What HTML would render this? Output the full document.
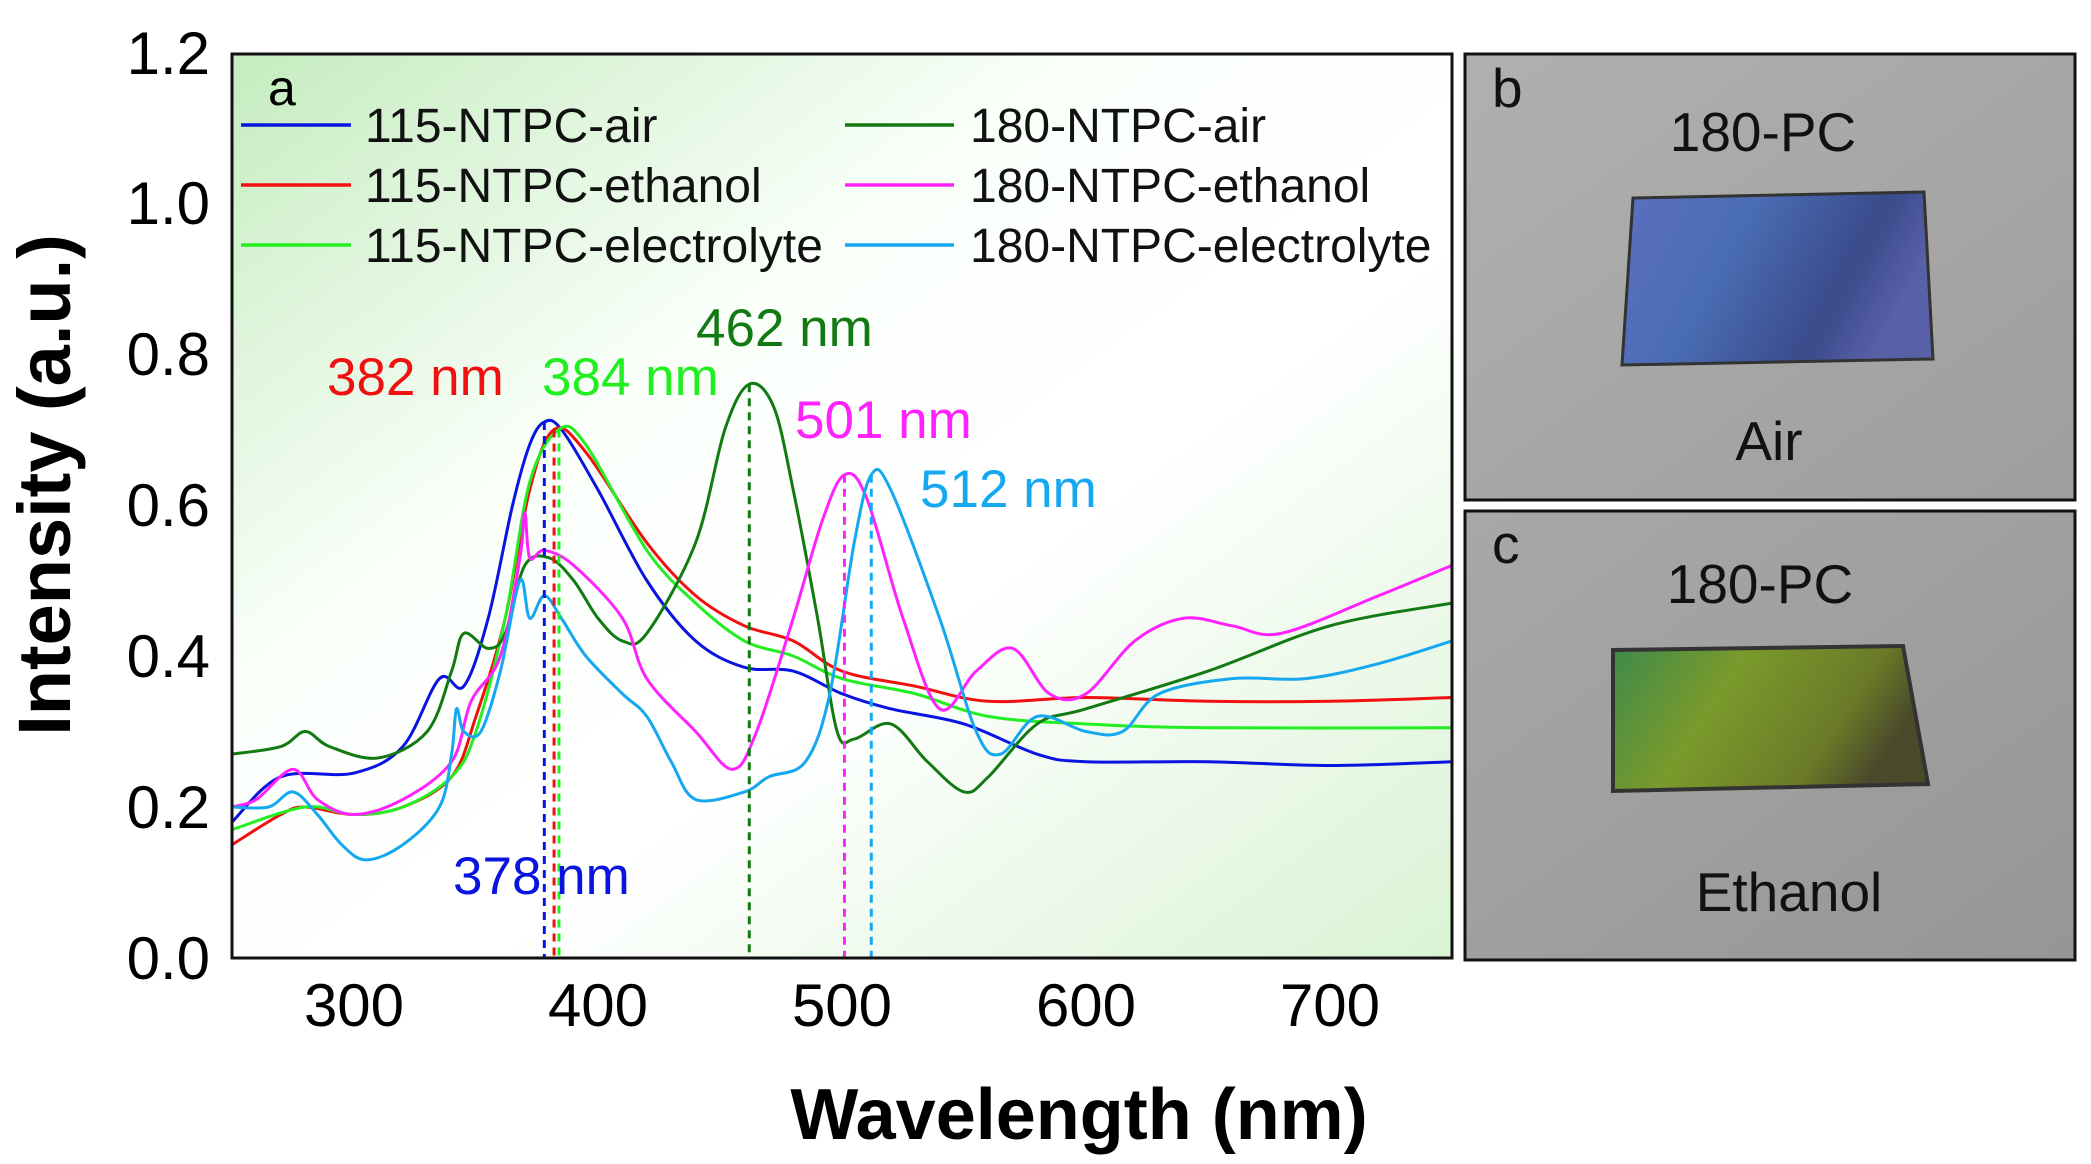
<!DOCTYPE html>
<html><head><meta charset="utf-8"><style>
html,body{margin:0;padding:0;background:#fff}
svg{display:block}
text{font-family:"Liberation Sans",Arial,sans-serif}
</style></head><body>
<svg id="s" width="2091" height="1164" viewBox="0 0 2091 1164" xmlns="http://www.w3.org/2000/svg">
<defs>
<linearGradient id="bg" x1="0" y1="0" x2="1" y2="1">
<stop offset="0" stop-color="#c5ecbf"/><stop offset="0.35" stop-color="#fafffa"/><stop offset="0.6" stop-color="#ffffff"/><stop offset="1" stop-color="#d9f3d4"/>
</linearGradient>
<linearGradient id="gb" x1="0" y1="0" x2="1" y2="1">
<stop offset="0" stop-color="#b0b0ae"/><stop offset="1" stop-color="#9e9e9c"/>
</linearGradient>
<linearGradient id="gc" x1="0" y1="0" x2="1" y2="1">
<stop offset="0" stop-color="#a8a8a6"/><stop offset="1" stop-color="#969694"/>
</linearGradient>
<linearGradient id="blu" x1="0" y1="0" x2="1" y2="0.3">
<stop offset="0" stop-color="#5d6fc0"/><stop offset="0.4" stop-color="#4a6db5"/><stop offset="0.8" stop-color="#3a4a8a"/><stop offset="1" stop-color="#5860a8"/>
</linearGradient>
<linearGradient id="grn" x1="0" y1="0" x2="1" y2="0.3">
<stop offset="0" stop-color="#3f8a4a"/><stop offset="0.4" stop-color="#7a9a2c"/><stop offset="0.8" stop-color="#6b7a28"/><stop offset="1" stop-color="#4a4a2a"/>
</linearGradient>
<clipPath id="cp"><rect x="232" y="54" width="1220" height="904"/></clipPath>
</defs>
<rect x="232" y="54" width="1220" height="904" fill="url(#bg)"/>
<g id="curves" clip-path="url(#cp)" fill="none" stroke-width="3"></g>
<g id="dash" fill="none" stroke-width="3" stroke-dasharray="8,6"></g>
<rect x="232" y="54" width="1220" height="904" fill="none" stroke="#111" stroke-width="3"/>
<g font-size="60" fill="#000" text-anchor="end">
<text x="210" y="979">0.0</text><text x="210" y="828">0.2</text><text x="210" y="677">0.4</text>
<text x="210" y="526">0.6</text><text x="210" y="375">0.8</text><text x="210" y="224">1.0</text><text x="210" y="74">1.2</text>
</g>
<g font-size="60" fill="#000" text-anchor="middle">
<text x="354" y="1026">300</text><text x="598" y="1026">400</text><text x="842" y="1026">500</text><text x="1086" y="1026">600</text><text x="1330" y="1026">700</text>
</g>
<text x="1079" y="1139" font-size="72" font-weight="bold" text-anchor="middle">Wavelength (nm)</text>
<text transform="translate(70,485) rotate(-90)" font-size="74" font-weight="bold" text-anchor="middle">Intensity (a.u.)</text>
<text x="268" y="105" font-size="50">a</text>
<g stroke-width="3.5">
<line x1="241" y1="125" x2="351" y2="125" stroke="#0a14e0"/>
<line x1="241" y1="185" x2="351" y2="185" stroke="#f01010"/>
<line x1="241" y1="245" x2="351" y2="245" stroke="#22ee22"/>
<line x1="845" y1="125" x2="954" y2="125" stroke="#137a13"/>
<line x1="845" y1="185" x2="954" y2="185" stroke="#ff22ff"/>
<line x1="845" y1="245" x2="954" y2="245" stroke="#15a8f0"/>
</g>
<g font-size="48" fill="#111">
<text x="365" y="142">115-NTPC-air</text><text x="365" y="202">115-NTPC-ethanol</text><text x="365" y="262">115-NTPC-electrolyte</text>
<text x="970" y="142">180-NTPC-air</text><text x="970" y="202">180-NTPC-ethanol</text><text x="970" y="262">180-NTPC-electrolyte</text>
</g>
<g font-size="53">
<text x="327" y="395" fill="#f01010">382 nm</text>
<text x="542" y="395" fill="#22ee22">384 nm</text>
<text x="696" y="346" fill="#137a13">462 nm</text>
<text x="795" y="438" fill="#ff22ff">501 nm</text>
<text x="920" y="507" fill="#15a8f0">512 nm</text>
<text x="453" y="894" fill="#0a14e0">378 nm</text>
</g>
<rect x="1465" y="54" width="610" height="446" fill="url(#gb)" stroke="#111" stroke-width="3"/>
<rect x="1465" y="511" width="610" height="449" fill="url(#gc)" stroke="#111" stroke-width="3"/>
<polygon points="1633,198 1924,192 1933,359 1622,365" fill="url(#blu)" stroke="#333" stroke-width="3"/>
<polygon points="1613,650 1903,646 1928,784 1613,791" fill="url(#grn)" stroke="#333" stroke-width="4"/>
<g font-size="55" fill="#111">
<text x="1492" y="107">b</text>
<text x="1763" y="151" text-anchor="middle">180-PC</text>
<text x="1769" y="460" text-anchor="middle">Air</text>
<text x="1492" y="563">c</text>
<text x="1760" y="603" text-anchor="middle">180-PC</text>
<text x="1789" y="911" text-anchor="middle">Ethanol</text>
</g>
</svg>
<script>
var X=function(w){return 232+(w-250)*2.44},Y=function(i){return 958-i*755};
var S=[
["#0a14e0",[[250,0.18],[270,0.24],[300,0.245],[320,0.28],[335,0.37],[345,0.36],[355,0.45],[365,0.6],[372,0.68],[378,0.71],[385,0.70],[400,0.62],[420,0.5],[440,0.42],[460,0.385],[480,0.38],[500,0.35],[520,0.33],[550,0.31],[580,0.27],[600,0.26],[650,0.26],[700,0.255],[750,0.26]]],
["#f01010",[[250,0.15],[270,0.19],[280,0.2],[300,0.19],[320,0.2],[340,0.24],[350,0.32],[362,0.45],[372,0.62],[382,0.70],[395,0.67],[420,0.55],[440,0.48],[460,0.44],[480,0.42],[500,0.38],[530,0.36],[560,0.34],[600,0.345],[650,0.34],[700,0.34],[750,0.345]]],
["#22ee22",[[250,0.17],[280,0.2],[300,0.19],[320,0.2],[340,0.24],[350,0.3],[362,0.45],[372,0.63],[384,0.70],[395,0.68],[420,0.54],[440,0.47],[460,0.42],[480,0.40],[500,0.37],[530,0.35],[560,0.32],[600,0.31],[650,0.305],[750,0.305]]],
["#137a13",[[250,0.27],[270,0.28],[280,0.3],[290,0.28],[310,0.265],[330,0.3],[340,0.38],[345,0.43],[355,0.41],[362,0.43],[370,0.52],[380,0.53],[390,0.50],[400,0.45],[410,0.42],[420,0.43],[440,0.55],[452,0.7],[462,0.76],[472,0.73],[480,0.62],[490,0.45],[498,0.3],[505,0.29],[520,0.31],[535,0.26],[550,0.22],[560,0.24],[580,0.31],[600,0.33],[650,0.38],[700,0.44],[750,0.47]]],
["#ff22ff",[[250,0.2],[260,0.21],[275,0.25],[285,0.21],[300,0.19],[320,0.21],[340,0.26],[348,0.34],[360,0.4],[368,0.53],[370,0.59],[372,0.53],[378,0.54],[390,0.52],[410,0.45],[420,0.37],[440,0.3],[455,0.25],[465,0.3],[480,0.45],[492,0.58],[501,0.64],[510,0.61],[525,0.45],[540,0.33],[555,0.38],[570,0.41],[585,0.35],[600,0.35],[620,0.42],[640,0.45],[660,0.44],[680,0.43],[720,0.48],[750,0.52]]],
["#15a8f0",[[250,0.2],[265,0.2],[275,0.22],[285,0.19],[295,0.15],[305,0.13],[320,0.15],[335,0.2],[340,0.27],[342,0.33],[345,0.3],[352,0.3],[360,0.38],[368,0.5],[372,0.45],[378,0.48],[385,0.45],[395,0.4],[410,0.35],[420,0.32],[430,0.26],[440,0.21],[460,0.22],[470,0.24],[485,0.26],[495,0.35],[505,0.55],[512,0.64],[520,0.62],[540,0.45],[555,0.3],[565,0.27],[580,0.32],[600,0.3],[615,0.3],[630,0.35],[660,0.37],[690,0.37],[720,0.39],[750,0.42]]]];
var ns="http://www.w3.org/2000/svg",g=document.getElementById("curves");
S.forEach(function(s){var p=s[1].map(function(a){return[X(a[0]),Y(a[1])]}),d="M"+p[0][0]+","+p[0][1];
for(var i=0;i<p.length-1;i++){var p0=p[i-1]||p[i],p1=p[i],p2=p[i+1],p3=p[i+2]||p2;
d+="C"+(p1[0]+(p2[0]-p0[0])/6)+","+(p1[1]+(p2[1]-p0[1])/6)+" "+(p2[0]-(p3[0]-p1[0])/6)+","+(p2[1]-(p3[1]-p1[1])/6)+" "+p2[0]+","+p2[1];}
var e=document.createElementNS(ns,"path");e.setAttribute("d",d);e.setAttribute("stroke",s[0]);g.appendChild(e);});
var D=[[378,0.71,"#0a14e0"],[382,0.70,"#f01010"],[384,0.70,"#22ee22"],[462,0.76,"#137a13"],[501,0.64,"#ff22ff"],[512,0.64,"#15a8f0"]],h=document.getElementById("dash");
D.forEach(function(a){var e=document.createElementNS(ns,"line");e.setAttribute("x1",X(a[0]));e.setAttribute("x2",X(a[0]));e.setAttribute("y1",Y(a[1]));e.setAttribute("y2",958);e.setAttribute("stroke",a[2]);h.appendChild(e);});
</script>
</body></html>
